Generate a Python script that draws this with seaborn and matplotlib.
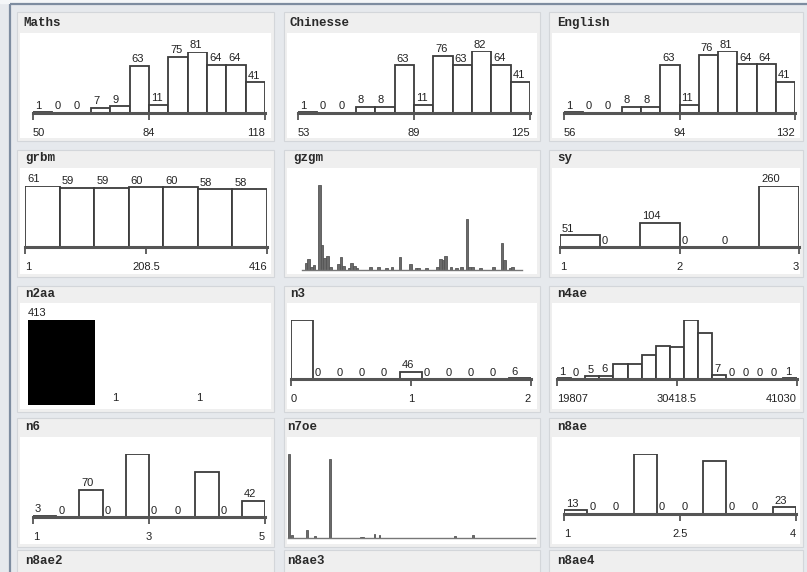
import numpy as np
import pandas as pd
import matplotlib
matplotlib.use("Agg")
import matplotlib.pyplot as plt
from matplotlib.patches import Rectangle
import seaborn as sns

# ---------------- data ----------------
MATHS_RANGE = (50, 118)
MATHS_COUNTS = [1, 0, 0, 7, 9, 63, 11, 75, 81, 64, 64, 41]
MATHS_TICKS = ["50", "84", "118"]

CHIN_RANGE = (53, 125)
CHIN_COUNTS = [1, 0, 0, 8, 8, 63, 11, 76, 63, 82, 64, 41]
CHIN_TICKS = ["53", "89", "125"]

ENG_RANGE = (56, 132)
ENG_COUNTS = [1, 0, 0, 8, 8, 63, 11, 76, 81, 64, 64, 41]
ENG_TICKS = ["56", "94", "132"]

GRBM_RANGE = (1, 416)
GRBM_COUNTS = [61, 59, 59, 60, 60, 58, 58]
GRBM_TICKS = ["1", "208.5", "416"]

GZGM_NBINS = 82
GZGM_IDX = [1, 2, 3, 4, 6, 7, 8, 9, 10, 13, 14, 15, 17, 18, 19, 20, 25, 28, 31, 33,
            36, 40, 42, 43, 46, 50, 51, 52, 53, 55, 57, 59, 61, 62, 63, 66, 71, 74,
            75, 77, 78]
GZGM_CNT = [7, 11, 3, 5, 85, 25, 12, 14, 3, 6, 13, 4, 2, 7, 4, 2, 3, 3, 2, 3,
            13, 6, 2, 2, 2, 3, 11, 10, 14, 3, 2, 3, 51, 3, 3, 2, 3, 27,
            10, 2, 3]

SY_RANGE = (1, 3)
SY_COUNTS = [51, 0, 104, 0, 0, 260]
SY_TICKS = ["1", "2", "3"]

N2AA_CATS = ["v1", "v2", "v3"]
N2AA_COUNTS = [413, 1, 1]

N3_RANGE = (0, 2)
N3_COUNTS = [363, 0, 0, 0, 0, 46, 0, 0, 0, 0, 6]
N3_TICKS = ["0", "1", "2"]

N4AE_RANGE = (19807, 41030)
N4AE_COUNTS = [1, 0, 5, 6, 27, 27, 42, 58, 56, 104, 81, 7, 0, 0, 0, 0, 1]
N4AE_TICKS = ["19807", "30418.5", "41030"]

N6_RANGE = (1, 5)
N6_COUNTS = [3, 0, 70, 0, 163, 0, 0, 117, 0, 42]
N6_TICKS = ["1", "3", "5"]

N7OE_NBINS = 150
N7OE_IDX = [0, 2, 11, 16, 25, 44, 45, 52, 55, 101, 112]
N7OE_CNT = [176, 6, 17, 4, 165, 2, 2, 8, 6, 4, 6]

N8AE_RANGE = (1, 4)
N8AE_COUNTS = [13, 0, 0, 201, 0, 0, 178, 0, 0, 23]
N8AE_TICKS = ["1", "2.5", "4"]

# ---------------- layout ----------------
W, H = 807, 572
sns.set_theme(style="white")
plt.rcParams["font.family"] = ["Liberation Sans", "DejaVu Sans"]

fig = plt.figure(figsize=(W / 100, H / 100), dpi=100)
fig.patch.set_facecolor("#e6e9ed")

bg = fig.add_axes([0, 0, 1, 1])
bg.set_xlim(0, W)
bg.set_ylim(H, 0)
bg.axis("off")

# window frame
bg.plot([10, 10], [4, H], color="#7d8ca0", lw=1.6, solid_capstyle="butt")
bg.plot([10, W], [4, 4], color="#7d8ca0", lw=1.6, solid_capstyle="butt")
bg.add_patch(Rectangle((0, 0), W, 3.2, color="#f4f6f8", zorder=0))

COLS = [(17, 274), (284, 540), (549, 803)]
ROWS = [(12, 141, 33), (150, 277, 168), (286, 412, 303), (418, 547, 437), (550, 600, None)]
for (l, r) in COLS:
    for (t, b, wt) in ROWS:
        bg.add_patch(Rectangle((l, t), r - l, b - t, facecolor="#efefef",
                               edgecolor="#d3d6da", lw=0.8))
        if wt is not None:
            bg.add_patch(Rectangle((l + 3, wt), r - l - 6, b - wt - 3, facecolor="white",
                                   edgecolor="none"))

TITLES = [("Maths", 23, 23), ("Chinesse", 289, 23), ("English", 557, 23),
          ("grbm", 25, 158), ("gzgm", 293, 158), ("sy", 557, 158),
          ("n2aa", 25, 294), ("n3", 290, 294), ("n4ae", 557, 294),
          ("n6", 25, 427), ("n7oe", 287, 427), ("n8ae", 557, 427),
          ("n8ae2", 25, 561), ("n8ae3", 287, 561), ("n8ae4", 557, 561)]
for txt, x, y in TITLES:
    bg.text(x, y, txt, family=["Liberation Mono", "DejaVu Sans Mono"], weight="bold",
            fontsize=9, color="#2a2a2a", va="center", ha="left")


def px_axes(x0, x1, baseline, hpx):
    ax = fig.add_axes([x0 / W, 1 - baseline / H, (x1 - x0) / W, hpx / H])
    ax.patch.set_visible(False)
    return ax


EDGE = "#3c3c3c"


def numeric_panel(counts, rng, ticks, x0, x1, baseline, maxpx):
    ax = px_axes(x0, x1, baseline, maxpx)
    lo, hi = rng
    n = len(counts)
    edges = np.linspace(lo, hi, n + 1)
    centers = (edges[:-1] + edges[1:]) / 2
    df = pd.DataFrame({"v": centers, "c": counts})
    sns.histplot(data=df, x="v", weights="c", bins=list(edges), ax=ax, stat="count",
                 color="white", alpha=1, edgecolor=EDGE, linewidth=1.3)
    ax.set_xlim(lo, hi)
    ax.set_ylim(0, max(counts))
    ax.set_xlabel("")
    ax.set_ylabel("")
    ax.set_yticks([])
    for s in ("left", "right", "top"):
        ax.spines[s].set_visible(False)
    ax.spines["bottom"].set_color("#555555")
    ax.spines["bottom"].set_linewidth(2.2)
    ax.set_xticks([lo, (lo + hi) / 2, hi])
    ax.set_xticklabels(ticks)
    ax.tick_params(axis="x", direction="out", length=5, width=1.3, color="#555555",
                   pad=6, labelsize=8, labelcolor="#222222", bottom=True)
    labs = ax.get_xticklabels()
    labs[0].set_ha("left")
    labs[-1].set_ha("right")
    binpx = (x1 - x0) / n
    for left, c in zip(edges[:-1], counts):
        if len(str(c)) * 6 + 6 <= binpx:
            ax.annotate(str(c), (left, c), xytext=(2, 1.5), textcoords="offset pixels",
                        ha="left", va="bottom", fontsize=8, color="#222222",
                        annotation_clip=False)
    return ax


def nominal_spikes(idx, cnt, nbins, x0, x1, baseline, maxpx):
    ax = px_axes(x0, x1, baseline, maxpx)
    df = pd.DataFrame({"v": np.array(idx) + 0.5, "c": cnt})
    sns.histplot(data=df, x="v", weights="c", bins=list(np.arange(nbins + 1)), ax=ax,
                 color="#6a6a6a", alpha=1, edgecolor="#555555", linewidth=0.6)
    ax.set_xlim(0, nbins)
    ax.set_ylim(0, max(cnt))
    ax.set_xlabel("")
    ax.set_ylabel("")
    ax.set_xticks([])
    ax.set_yticks([])
    for s in ("left", "right", "top"):
        ax.spines[s].set_visible(False)
    ax.spines["bottom"].set_color("#777777")
    ax.spines["bottom"].set_linewidth(1.0)
    return ax


numeric_panel(MATHS_COUNTS, MATHS_RANGE, MATHS_TICKS, 33, 265, 113, 61)
numeric_panel(CHIN_COUNTS, CHIN_RANGE, CHIN_TICKS, 298, 530, 113, 62)
numeric_panel(ENG_COUNTS, ENG_RANGE, ENG_TICKS, 564, 795, 113, 62)
numeric_panel(GRBM_COUNTS, GRBM_RANGE, GRBM_TICKS, 25, 267, 247, 61)
numeric_panel(SY_COUNTS, SY_RANGE, SY_TICKS, 560, 799, 247, 61)
numeric_panel(N3_COUNTS, N3_RANGE, N3_TICKS, 291, 531, 379, 59)
numeric_panel(N4AE_COUNTS, N4AE_RANGE, N4AE_TICKS, 557, 797, 379, 59)
numeric_panel(N6_COUNTS, N6_RANGE, N6_TICKS, 33, 265, 517, 63)
numeric_panel(N8AE_COUNTS, N8AE_RANGE, N8AE_TICKS, 564, 796, 514, 60)

nominal_spikes(GZGM_IDX, GZGM_CNT, GZGM_NBINS, 302, 522, 270, 85)
nominal_spikes(N7OE_IDX, N7OE_CNT, N7OE_NBINS, 288, 535, 538, 84)

# n2aa nominal bars
ax = px_axes(25, 267, 405, 85)
df2 = pd.DataFrame({"cat": N2AA_CATS, "c": N2AA_COUNTS})
sns.barplot(data=df2, x="cat", y="c", ax=ax, color="black", width=0.8,
            saturation=1, linewidth=0, edgecolor="black")
spacing = 84
ax.set_xlim((25 - 28) / spacing - 0.4, (267 - 28) / spacing - 0.4)
ax.set_ylim(0, max(N2AA_COUNTS))
ax.axis("off")
for i, c in enumerate(N2AA_COUNTS):
    ax.annotate(str(c), (i - 0.4, c), xytext=(0, 1.5), textcoords="offset pixels",
                ha="left", va="bottom", fontsize=8, color="#222222",
                annotation_clip=False)

fig.savefig("out.png", dpi=100, facecolor=fig.get_facecolor())
